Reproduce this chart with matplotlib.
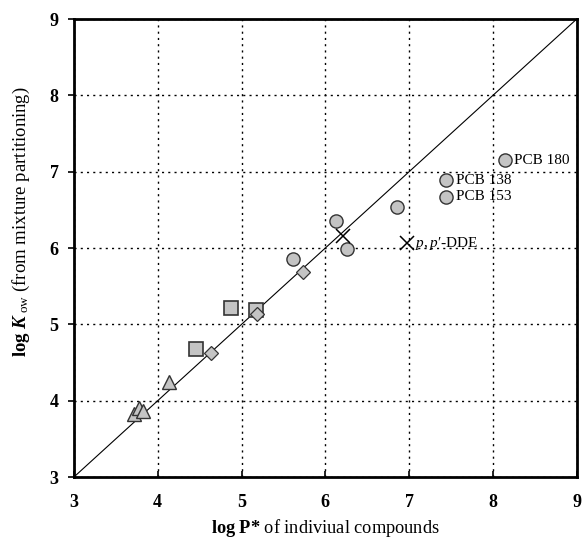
import matplotlib
matplotlib.use("Agg")
import matplotlib.pyplot as plt

plt.rcParams['font.family'] = ['Liberation Serif', 'DejaVu Serif']
plt.rcParams['mathtext.fontset'] = 'custom'
plt.rcParams['mathtext.rm'] = 'Liberation Serif'
plt.rcParams['mathtext.it'] = 'Liberation Serif:italic'
plt.rcParams['mathtext.bf'] = 'Liberation Serif:bold'
plt.rcParams['mathtext.bfit'] = 'Liberation Serif:italic:bold'

# log P* (x) vs log Kow (y) per compound class
tri_x = [3.72, 3.78, 3.82, 4.14]
tri_y = [3.82, 3.90, 3.86, 4.24]
sq_x = [4.46, 4.88, 5.17]
sq_y = [4.68, 5.22, 5.19]
dia_x = [4.64, 5.18, 5.73]
dia_y = [4.62, 5.14, 5.68]
circ_x = [5.61, 6.13, 6.26, 6.86, 7.44, 7.44, 8.14]
circ_y = [5.85, 6.36, 5.99, 6.54, 6.89, 6.67, 7.15]
cross_x = [6.21, 6.97]
cross_y = [6.16, 6.06]

labels = {"PCB 180": (8.14, 7.15), "PCB 138": (7.44, 6.89), "PCB 153": (7.44, 6.67)}
dde = (6.97, 6.06)

fig = plt.figure(figsize=(5.82, 5.43), dpi=100)
ax = fig.add_axes([0.127, 0.1215, 0.864, 0.8435])

fill = '#c4c4c4'
edge = '#333333'
ax.plot([3, 9], [3, 9], color='black', lw=0.8, zorder=2)
ax.plot(tri_x, tri_y, '^', ms=10, mfc=fill, mec=edge, mew=1.0, zorder=3)
ax.plot(sq_x, sq_y, 's', ms=10, mfc=fill, mec=edge, mew=1.2, zorder=3)
ax.plot(dia_x, dia_y, 'D', ms=7.5, mfc=fill, mec=edge, mew=0.9, zorder=3)
ax.plot(circ_x, circ_y, 'o', ms=9.5, mfc=fill, mec=edge, mew=1.0, zorder=3)
ax.plot(cross_x, cross_y, 'x', ms=10, mec='black', mew=1.1, zorder=4)

for name, (px, py) in labels.items():
    ax.annotate(name, (px, py), xytext=(7, 0), textcoords='offset points',
                va='center', ha='left', fontsize=11)
ax.annotate("$\\mathit{p,p}$\u2032-DDE", dde, xytext=(6, 0), textcoords='offset points',
            va='center', ha='left', fontsize=11)

ax.set_xlim(3, 9)
ax.set_ylim(3, 9)
ax.set_xticks(range(3, 10))
ax.set_yticks(range(3, 10))
ax.grid(True, color='black', linestyle=(0, (1.5, 3)), lw=1.0)
ax.tick_params(axis='x', direction='in', length=4, width=1.2, pad=12)
ax.tick_params(axis='y', direction='out', length=4, width=1.2, pad=7)
for lab in ax.get_xticklabels() + ax.get_yticklabels():
    lab.set_fontweight('bold')
    lab.set_fontsize(13)
for sp in ax.spines.values():
    sp.set_linewidth(2.0)

ax.set_xlabel(r"$\mathbf{log\ P{*}}$ of indiviual compounds", fontsize=13.2)
ax.xaxis.set_label_coords(0.5, -0.087)
ax.set_ylabel(r"$\mathbf{log}\ \mathbfit{K}_{\ \mathrm{ow}}$ (from mixture partitioning)",
              fontsize=13.5)
ax.yaxis.set_label_coords(-0.083, 0.557)

fig.savefig("out.png", dpi=100)
